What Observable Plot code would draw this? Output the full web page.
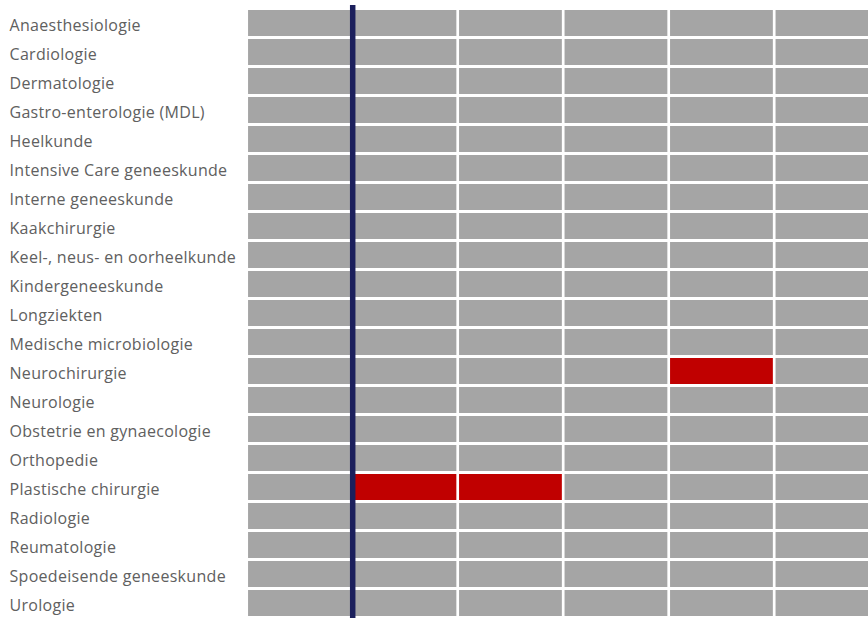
<!DOCTYPE html>
<html>
<head>
<meta charset="utf-8">
<script src="https://cdn.jsdelivr.net/npm/d3@7"></script>
<script src="https://cdn.jsdelivr.net/npm/@observablehq/plot@0.6"></script>
<style>
  html, body { margin: 0; padding: 0; background: #fff; overflow: hidden; }
  #chart svg { overflow: hidden; display: block; }
  #chart svg text { letter-spacing: 0.3px; }
</style>
</head>
<body>
<div id="chart"></div>
<script>
const specialties = [
  "Anaesthesiologie", "Cardiologie", "Dermatologie", "Gastro-enterologie (MDL)",
  "Heelkunde", "Intensive Care geneeskunde", "Interne geneeskunde", "Kaakchirurgie",
  "Keel-, neus- en oorheelkunde", "Kindergeneeskunde", "Longziekten",
  "Medische microbiologie", "Neurochirurgie", "Neurologie",
  "Obstetrie en gynaecologie", "Orthopedie", "Plastische chirurgie", "Radiologie",
  "Reumatologie", "Spoedeisende geneeskunde", "Urologie"
];
const periods = [0, 1, 2, 3, 4, 5];
const flaggedSpecialty = ["Neurochirurgie", "Plastische chirurgie", "Plastische chirurgie"];
const flaggedPeriod = [4, 1, 2];
const markerPeriod = [1];

const cells = [];
for (const s of specialties) for (const p of periods) {
  const flagged = flaggedSpecialty.some((fs, i) => fs === s && flaggedPeriod[i] === p);
  cells.push({specialty: s, start: p, end: p + 1, flagged});
}

const chart = Plot.plot({
  width: 868,
  height: 618,
  marginTop: 5,
  marginBottom: 0,
  marginLeft: 248,
  marginRight: 0,
  x: {domain: [0, 6], range: [246.7, 879.7], axis: null},
  y: {domain: specialties, range: [6, 620.25], paddingInner: 0.09, paddingOuter: 0.045, label: null},
  style: {fontFamily: "'Open Sans', Lato, sans-serif", fontSize: "16px", color: "#606060", overflow: "hidden"},
  marks: [
    Plot.rect(cells, {
      x1: "start", x2: "end", y: "specialty",
      fill: d => d.flagged ? "#C00000" : "#A5A5A5",
      insetLeft: 1.35, insetRight: 1.35
    }),
    Plot.ruleX(markerPeriod, {x: d => d, stroke: "#1B1F5C", strokeWidth: 5.5}),
    Plot.axisY({
      tickSize: 0, textAnchor: "start", dx: -230, dy: 2.5,
      fill: "#606060", fontSize: 16
    })
  ]
});
document.getElementById("chart").appendChild(chart);
</script>
</body>
</html>
